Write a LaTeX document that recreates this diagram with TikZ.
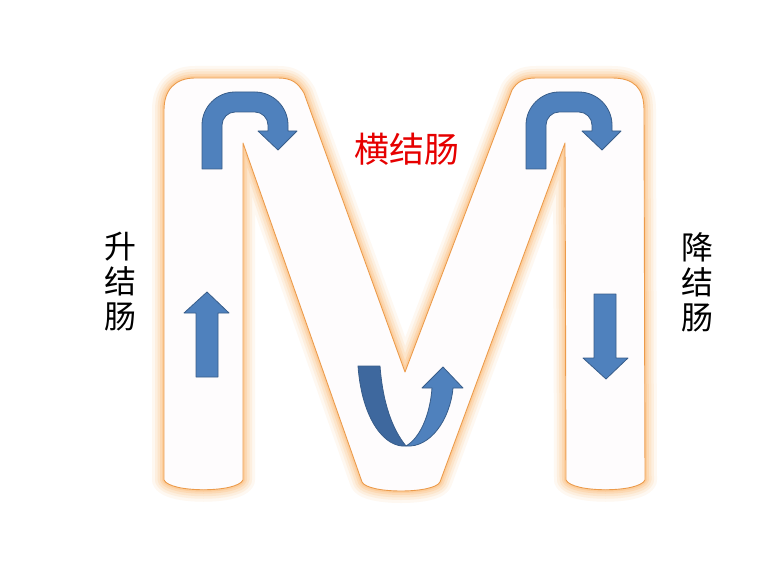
\documentclass[tikz,border=0pt]{standalone}
\usepackage{fontspec}
\newfontfamily\cjk{Noto Sans CJK SC}
\definecolor{glowc}{RGB}{252,178,100}
\definecolor{rimc}{RGB}{236,155,75}
\definecolor{bodyc}{RGB}{254,252,253}
\definecolor{arrowblue}{RGB}{79,129,189}
\definecolor{arrowdark}{RGB}{62,104,158}
\definecolor{arrowedge}{RGB}{56,93,138}
\definecolor{labelred}{RGB}{230,0,0}

\begin{document}
\begin{tikzpicture}[x=1pt, y=-1pt, line join=round]
    \tikzstyle{arrowshape}=[fill=arrowblue, draw=arrowedge, line width=0.8pt]
    \tikzstyle{colonlabel}=[font=\cjk\fontsize{32}{35}\selectfont, align=center, inner sep=0pt]
    \fill[white] (0,0) rectangle (773,569);
    \useasboundingbox (0,0) rectangle (773,569);
    % the M-shaped colon with its soft glow
    \path[preaction={draw=glowc, line width=24, opacity=0.09},
          preaction={draw=glowc, line width=18, opacity=0.12},
          preaction={draw=glowc, line width=13, opacity=0.16},
          preaction={draw=glowc, line width=8, opacity=0.22},
          preaction={draw=glowc, line width=4, opacity=0.28},
          fill=bodyc, draw=rimc, line width=0.9pt]
      (164,110) .. controls (164,90) and (175,78) .. (195,78)
      -- (278,78) .. controls (292,78) and (298,83) .. (304,93)
      -- (405,372)
      -- (512,90) .. controls (517,82) and (523,78) .. (536,78)
      -- (612,78) .. controls (634,78) and (644,88) .. (644,110)
      -- (645,480) .. controls (639,493) and (572,493) .. (566,480)
      -- (565,143)
      -- (440,482) .. controls (434,494) and (368,494) .. (362,482)
      -- (243,143)
      -- (243,480) .. controls (237,493) and (170,493) .. (164,480)
      -- cycle;
    % u-turn arrows at the two bends
    \foreach \dx in {0,324}
      \draw[arrowshape, xshift=\dx] (202,169) -- (202,125)
        .. controls (202,107) and (217,92) .. (235,92) -- (255,92)
        .. controls (273,92) and (288,107) .. (288,125) -- (288,131)
        -- (297,131) -- (278,150) -- (258,131) -- (268,131) -- (268,125)
        .. controls (268,118) and (262,112) .. (255,112) -- (235,112)
        .. controls (228,112) and (222,118) .. (222,125) -- (222,169) -- cycle;
    % straight arrows
    \draw[arrowshape] (196,377) -- (196,313) -- (184,313) -- (207,292)
      -- (229,313) -- (218,313) -- (218,377) -- cycle;
    \draw[arrowshape] (594,294) -- (616,294) -- (616,358) -- (628,358)
      -- (606,379) -- (583,358) -- (594,358) -- cycle;
    % curved arrow in the middle
    \draw[arrowshape, fill=arrowdark] (358,366) -- (380,366)
      .. controls (383,405) and (393,430) .. (406,446)
      .. controls (385,448) and (362,420) .. (358,366) -- cycle;
    \draw[arrowshape] (406,446) .. controls (430,448) and (450,420) .. (453,388)
      -- (463,388) -- (443,367) -- (422,388) -- (432,388)
      .. controls (430,415) and (420,438) .. (406,446) -- cycle;
    % labels
    \node[colonlabel, font=\cjk\fontsize{35}{38}\selectfont, text=labelred] (transverse) at (407,149) {横结肠};
    \node[colonlabel] (ascending) at (120,282) {升\\结\\肠};
    \node[colonlabel] (descending) at (697,282) {降\\结\\肠};
\end{tikzpicture}
\end{document}
